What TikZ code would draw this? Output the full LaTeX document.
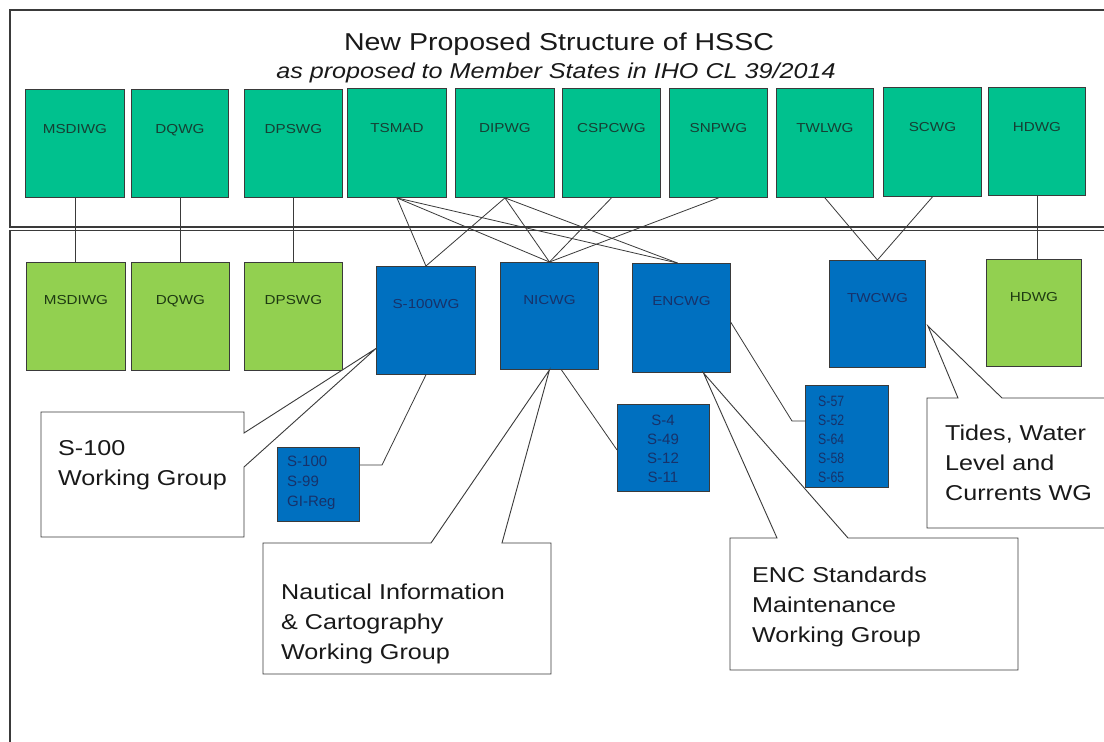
\documentclass[tikz,border=0pt]{standalone}
\usepackage{fontspec}
\setmainfont{Liberation Sans}[FakeStretch=1.17]
\newfontfamily\plainsf{Liberation Sans}
\newfontfamily\condsf{Liberation Sans}[FakeStretch=0.82]
\definecolor{tealbox}{HTML}{00C18E}
\definecolor{greenbox}{HTML}{92D050}
\definecolor{bluebox}{HTML}{0070C0}
\definecolor{tealtxt}{HTML}{163F33}
\definecolor{greentxt}{HTML}{1E3A12}
\definecolor{bluetxt}{HTML}{17326A}
\definecolor{linegray}{HTML}{3A3A3A}
\newcommand\wgbox[8]{%
  \node[wg,fill=#6,minimum width=#4pt,minimum height=#5pt] (#1) at (#2,#3) {};
  \node[lbl,text=#7] (#1l) at ([yshift=-\lblofs]#1.north) {#8};}
\begin{document}
\begin{tikzpicture}[x=1pt,y=-1pt,
  wg/.style={draw=linegray,line width=0.9pt,rectangle,inner sep=0pt,anchor=north west},
  lbl/.style={anchor=base,inner sep=0pt,font=\fontsize{13}{15}\selectfont},
  conn/.style={draw=linegray,line width=0.8pt},
  frameline/.style={draw=linegray,line width=1.2pt},
  calloutbox/.style={draw=linegray,line width=0.9pt,fill=white,line join=miter},
  ctext/.style={anchor=base west,inner sep=0pt,text=black!90,font=\fontsize{21.5}{30}\selectfont},
  smalltxt/.style={inner sep=0pt,text=bluetxt,font=\plainsf\fontsize{15}{19}\selectfont}]
\useasboundingbox (0,0) rectangle (1104,742);
\fill[white] (0,0) rectangle (1104,742);
% frames
\draw[frameline] (1104,10) -- (10,10) -- (10,227) -- (1104,227);
\draw[frameline] (1104,230.5) -- (10,230.5) -- (10,742);
% title
\node[anchor=base,inner sep=0pt,text=black!90,font=\fontsize{24.4}{28}\selectfont] (title) at (559,50) {New Proposed Structure of HSSC};
\node[anchor=base,inner sep=0pt,text=black!90,font=\itshape\fontsize{21.5}{26}\selectfont] (subtitle) at (556,78) {as proposed to Member States in IHO CL 39/2014};
% top boxes
\def\lblofs{44.5pt}
\wgbox{t1}{25}{89}{99}{108}{tealbox}{tealtxt}{MSDIWG}
\wgbox{t2}{131}{89}{97}{108}{tealbox}{tealtxt}{DQWG}
\wgbox{t3}{244}{89}{98}{108}{tealbox}{tealtxt}{DPSWG}
\wgbox{t4}{347}{88}{99}{109}{tealbox}{tealtxt}{TSMAD}
\wgbox{t5}{455}{88}{99}{109}{tealbox}{tealtxt}{DIPWG}
\wgbox{t6}{562}{88}{98}{109}{tealbox}{tealtxt}{CSPCWG}
\wgbox{t7}{669}{88}{98}{109}{tealbox}{tealtxt}{SNPWG}
\wgbox{t8}{776}{88}{97}{109}{tealbox}{tealtxt}{TWLWG}
\wgbox{t9}{883}{87}{98}{109}{tealbox}{tealtxt}{SCWG}
\wgbox{t10}{988}{87}{97}{108}{tealbox}{tealtxt}{HDWG}
% coordinates for bottom boxes (drawn later); need nodes first for connectors
\def\lblofs{42pt}
\wgbox{b1}{26}{262}{99}{108}{greenbox}{greentxt}{MSDIWG}
\wgbox{b2}{131}{262}{98}{108}{greenbox}{greentxt}{DQWG}
\wgbox{b3}{244}{262}{98}{108}{greenbox}{greentxt}{DPSWG}
\wgbox{b4}{376}{266}{99}{108}{bluebox}{bluetxt}{S-100WG}
\wgbox{b5}{500}{262}{98}{107}{bluebox}{bluetxt}{NICWG}
\wgbox{b6}{632}{263}{98}{109}{bluebox}{bluetxt}{ENCWG}
\wgbox{b7}{829}{260}{96}{107}{bluebox}{bluetxt}{TWCWG}
\wgbox{b8}{986}{259}{95}{107}{greenbox}{greentxt}{HDWG}
% small boxes
\node[wg,fill=bluebox,minimum width=82pt,minimum height=74pt] (s1) at (277,447) {};
\node[wg,fill=bluebox,minimum width=92pt,minimum height=87pt] (s2) at (617,404) {};
\node[wg,fill=bluebox,minimum width=83pt,minimum height=102pt] (s3) at (805,385) {};
% connectors top -> bottom
\draw[conn] (t1.south) -- (t1.south |- b1.north);
\draw[conn] (t2.south) -- (t2.south |- b2.north);
\draw[conn] (t3.south) -- (t3.south |- b3.north);
\draw[conn] (t10.south) -- (t10.south |- b8.north);
\draw[conn] (t4.south) -- (b4.north);
\draw[conn] (t4.south) -- (b5.north);
\draw[conn] (t4.south) -- ([xshift=-4pt]b6.north);
\draw[conn] (t5.south) -- (b4.north);
\draw[conn] (t5.south) -- (b5.north);
\draw[conn] (t5.south) -- ([xshift=-4pt]b6.north);
\draw[conn] (t6.south) -- (b5.north);
\draw[conn] (t7.south) -- (b5.north);
\draw[conn] (t8.south) -- (b7.north);
\draw[conn] (t9.south) -- (b7.north);
% connectors to small boxes
\coordinate (k1) at (382,465);
\draw[conn] (b4.south) -- (k1) -- (k1 -| s1.east);
\draw[conn] ([xshift=12pt]b5.south) -- ([yshift=-2pt]s2.west);
\coordinate (k2) at (792,421);
\draw[conn] ([yshift=-4.5pt]b6.east) -- (k2) -- (k2 -| s3.west);
% callouts
\coordinate (p1) at ([yshift=-28pt]b4.west);
\coordinate (p2) at (b5.south);
\coordinate (p3) at ([xshift=22pt]b6.south);
\coordinate (p4) at ([xshift=2pt,yshift=-12pt]b7.east);
\draw[calloutbox] (41,412) -- (244,412) -- (244,433) -- (p1) -- (244,467) -- (244,537) -- (41,537) -- cycle;
\draw[calloutbox] (263,543) -- (431,543) -- (p2) -- (502,543) -- (551,543) -- (551,674) -- (263,674) -- cycle;
\draw[calloutbox] (730,538) -- (777,538) -- (p3) -- (848,538) -- (1018,538) -- (1018,670) -- (730,670) -- cycle;
\fill[white] (1104,398) -- (1002,398) -- (p4) -- (958,398) -- (927,398) -- (927,528) -- (1104,528) -- cycle;
\draw[calloutbox,fill=none] (1104,398) -- (1002,398) -- (p4) -- (958,398) -- (927,398) -- (927,528) -- (1104,528);
% small box texts
\node[smalltxt,anchor=base west] (s1a) at (287,466) {S-100};
\node[smalltxt,anchor=base west] (s1b) at (287,486) {S-99};
\node[smalltxt,anchor=base west] (s1c) at (287,506) {GI-Reg};
\node[smalltxt,anchor=base] (s2a) at (663,425) {S-4};
\node[smalltxt,anchor=base] (s2b) at (663,444) {S-49};
\node[smalltxt,anchor=base] (s2c) at (663,463) {S-12};
\node[smalltxt,anchor=base] (s2d) at (663,482) {S-11};
\node[smalltxt,font=\condsf\fontsize{15}{19}\selectfont,anchor=base west] (s3a) at (818,406) {S-57};
\node[smalltxt,font=\condsf\fontsize{15}{19}\selectfont,anchor=base west] (s3b) at (818,425) {S-52};
\node[smalltxt,font=\condsf\fontsize{15}{19}\selectfont,anchor=base west] (s3c) at (818,444) {S-64};
\node[smalltxt,font=\condsf\fontsize{15}{19}\selectfont,anchor=base west] (s3d) at (818,463) {S-58};
\node[smalltxt,font=\condsf\fontsize{15}{19}\selectfont,anchor=base west] (s3e) at (818,482) {S-65};
% callout texts
\node[ctext] (c1a) at (58,455) {S-100};
\node[ctext] (c1b) at (58,485) {Working Group};
\node[ctext] (c2a) at (281,599) {Nautical Information};
\node[ctext] (c2b) at (281,629) {\& Cartography};
\node[ctext] (c2c) at (281,659) {Working Group};
\node[ctext] (c3a) at (752,582) {ENC Standards};
\node[ctext] (c3b) at (752,612) {Maintenance};
\node[ctext] (c3c) at (752,642) {Working Group};
\node[ctext] (c4a) at (945,440) {Tides, Water};
\node[ctext] (c4b) at (945,470) {Level and};
\node[ctext] (c4c) at (945,500) {Currents WG};
\end{tikzpicture}
\end{document}
